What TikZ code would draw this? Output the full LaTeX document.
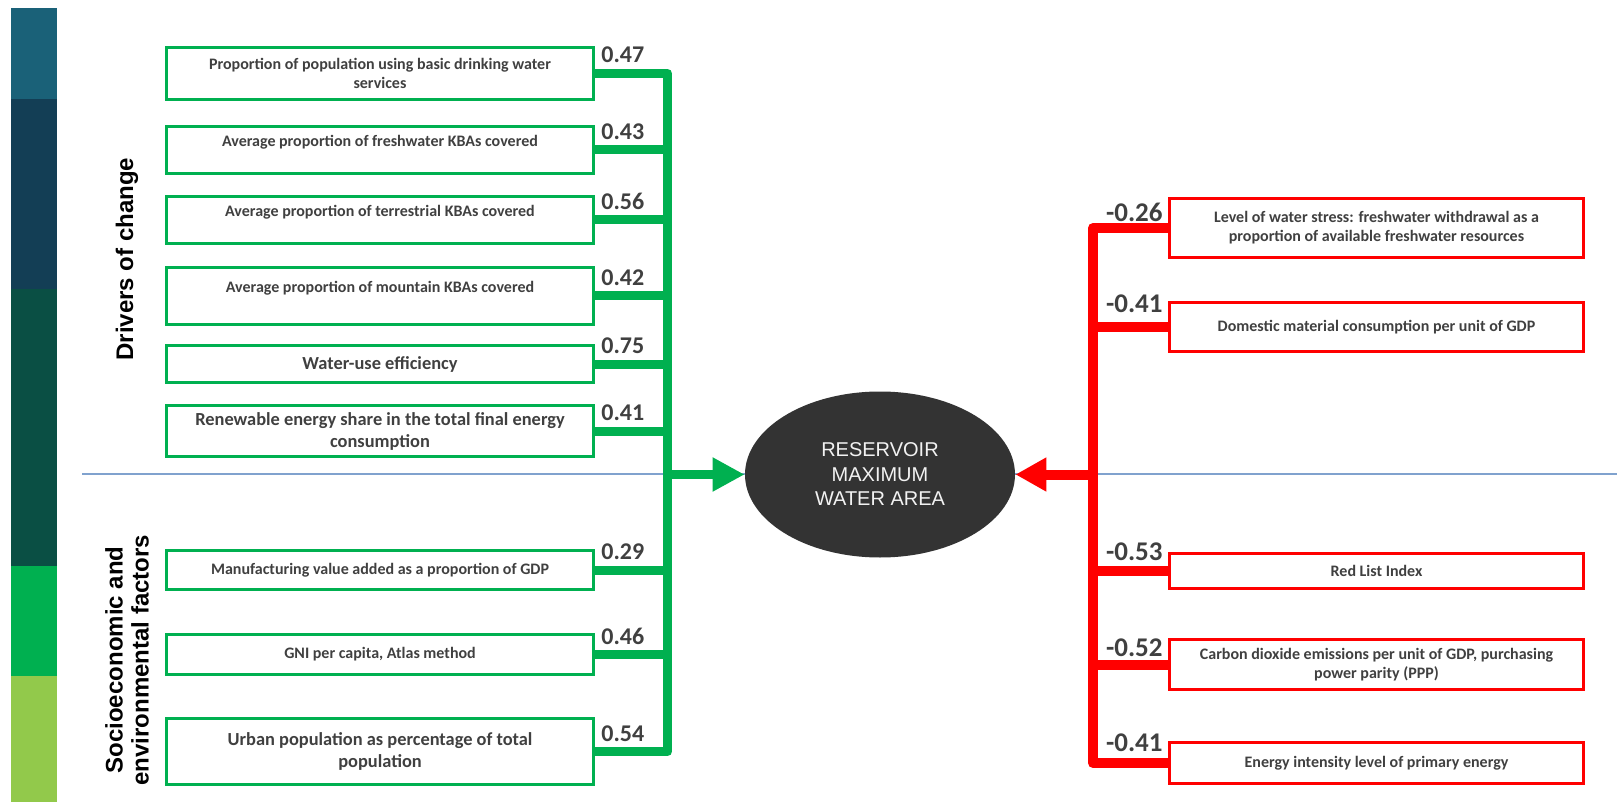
\documentclass[tikz,border=0pt]{standalone}
\usepackage{fontspec}
\setmainfont{Carlito}
\newfontfamily\arialf{Liberation Sans}
\usetikzlibrary{shapes.geometric,arrows.meta}
\definecolor{grn}{RGB}{0,176,80}
\definecolor{rd}{RGB}{255,0,0}
\definecolor{txt}{RGB}{64,64,64}
\definecolor{ellf}{RGB}{51,51,51}
\definecolor{elltxt}{RGB}{242,242,242}
\definecolor{bluel}{RGB}{128,162,206}
\definecolor{barA}{RGB}{26,97,120}
\definecolor{barB}{RGB}{19,62,85}
\definecolor{barC}{RGB}{10,79,68}
\definecolor{barD}{RGB}{0,176,80}
\definecolor{barE}{RGB}{146,201,75}
\tikzset{
 box/.style={draw, line width=1.5pt, fill=white, inner sep=0pt, align=center, text=txt, font=\bfseries\fontsize{8}{9.5}\selectfont},
 gbox/.style={box, draw=grn, minimum width=213.5pt},
 rbox/.style={box, draw=rd, minimum width=207pt},
 bigtxt/.style={font=\bfseries\fontsize{9.2}{11}\selectfont},
 gline/.style={draw=grn, line width=4.5pt, line join=round},
 rline/.style={draw=rd, line width=5pt, line join=round},
 gnum/.style={anchor=base west, text=txt, font=\bfseries\fontsize{12}{12}\selectfont, inner sep=0pt},
 rnum/.style={anchor=base east, text=txt, font=\bfseries\fontsize{13.5}{13.5}\selectfont, inner sep=0pt},
 side/.style={rotate=90, font=\arialf\bfseries\fontsize{12}{13}\selectfont, align=center, inner sep=0pt},
}
\begin{document}
\begin{tikzpicture}[x=0.5pt,y=-0.5pt]
\useasboundingbox (0,0) rectangle (1617,802);
% side colour bar
\fill[barA] (11,8) rectangle (57,99);
\fill[barB] (11,99) rectangle (57,289);
\fill[barC] (11,289) rectangle (57,566);
\fill[barD] (11,566) rectangle (57,676);
\fill[barE] (11,676) rectangle (57,802);
% separator
\draw[bluel, line width=1pt] (82,474) -- (1617,474);
% side labels
\node[side] (drv) at (127,259) {Drivers of change};
\node[side] (soc) at (127,660) {Socioeconomic and\\environmental factors};
% green boxes
\node[gbox, minimum height=26pt] (g1) at (380,73.5) {Proportion of population using basic drinking water\\services};
\node[gbox, minimum height=23.5pt] (g2) at (380,150) {Average proportion of freshwater KBAs covered\\~};
\node[gbox, minimum height=23.5pt] (g3) at (380,220) {Average proportion of terrestrial KBAs covered\\~};
\node[gbox, minimum height=28.5pt] (g4) at (380,296) {Average proportion of mountain KBAs covered\\~};
\node[gbox, bigtxt, minimum height=18.5pt] (g5) at (380,364) {Water-use efficiency};
\node[gbox, bigtxt, minimum height=25.5pt] (g6) at (380,431) {Renewable energy share in the total final energy\\consumption};
\node[gbox, minimum height=19.5pt] (g7) at (380,570) {Manufacturing value added as a proportion of GDP};
\node[gbox, minimum height=20pt] (g8) at (380,654.5) {GNI per capita, Atlas method};
\node[gbox, bigtxt, minimum height=33pt] (g9) at (380,751.5) {Urban population as percentage of total\\population};
% red boxes
\node[rbox, minimum height=29.5pt] (r1) at (1376.5,228) {Level of water stress: freshwater withdrawal as a\\proportion of available freshwater resources};
\node[rbox, minimum height=24.5pt] (r2) at (1376.5,327) {Domestic material consumption per unit of GDP};
\node[rbox, minimum height=17.5pt] (r3) at (1376.5,571) {Red List Index};
\node[rbox, minimum height=25pt] (r4) at (1376.5,664.5) {Carbon dioxide emissions per unit of GDP, purchasing\\power parity (PPP)};
\node[rbox, minimum height=20.5pt] (r5) at (1376.5,763) {Energy intensity level of primary energy};
% central ellipse
\node[ellipse, fill=ellf, minimum width=135pt, minimum height=83pt, inner sep=0pt, text=elltxt, align=center, font=\arialf\fontsize{10}{12.25}\selectfont] (res) at (880,474.5) {RESERVOIR\\MAXIMUM\\WATER AREA};
% green connectors
\coordinate (gbot) at (667.5,751.5);
\coordinate (gmid) at (667.5,474.5);
\draw[gline] (g1.east) -| (gbot) -- (g9.east);
\foreach \n in {2,...,8} \draw[gline] (g\n.east) -- (g\n.east -| gbot);
\draw[gline, -{Triangle[length=16pt,width=16pt]}] (gmid) -- (res.west);
% red connectors
\coordinate (rbot) at (1093,763);
\coordinate (rmid) at (1093,474.5);
\draw[rline] (r1.west) -| (rbot) -- (r5.west);
\foreach \n in {2,3,4} \draw[rline] (r\n.west) -- (r\n.west -| rbot);
\draw[rline, -{Triangle[length=15.5pt,width=16pt]}] (rmid) -- (res.east);
% coefficients
\node[gnum] (n1) at (601,63) {0.47};
\node[gnum] (n2) at (601,139.5) {0.43};
\node[gnum] (n3) at (601,209.5) {0.56};
\node[gnum] (n4) at (601,285.5) {0.42};
\node[gnum] (n5) at (601,353.5) {0.75};
\node[gnum] (n6) at (601,420.5) {0.41};
\node[gnum] (n7) at (601,559.5) {0.29};
\node[gnum] (n8) at (601,644) {0.46};
\node[gnum] (n9) at (601,741) {0.54};
\node[rnum] (m1) at (1163,222) {-0.26};
\node[rnum] (m2) at (1163,313) {-0.41};
\node[rnum] (m3) at (1163,560) {-0.53};
\node[rnum] (m4) at (1163,656) {-0.52};
\node[rnum] (m5) at (1163,751) {-0.41};
\end{tikzpicture}
\end{document}
